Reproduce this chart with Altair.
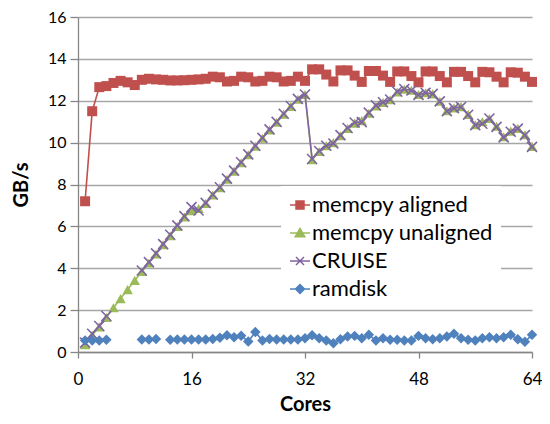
import altair as alt
import pandas as pd

cores = list(range(1, 65))

aligned = [7.2, 11.5, 12.65, 12.7, 12.85, 12.95, 12.88, 12.75, 13.0, 13.05,
           13.02, 13.0, 12.97, 12.97, 12.98, 13.0, 13.02, 13.05, 13.15, 13.12,
           12.92, 12.95, 13.15, 13.12, 12.92, 12.95, 13.15, 13.12, 12.92, 12.95,
           13.15, 12.95, 13.5, 13.5, 13.25, 12.92, 13.45, 13.45, 13.2, 12.9,
           13.42, 13.42, 13.2, 12.9, 13.4, 13.4, 13.18, 12.88, 13.4, 13.4,
           13.18, 12.88, 13.38, 13.38, 13.18, 12.88, 13.38, 13.36, 13.15, 12.88,
           13.36, 13.34, 13.15, 12.9]

unaligned = [0.35, 0.8, 1.2, 1.65, 2.11, 2.55, 2.98, 3.42, 3.85, 4.25,
             4.68, 5.12, 5.55, 6.0, 6.45, 6.75, 6.85, 7.1, 7.5, 7.85,
             8.25, 8.64, 9.04, 9.42, 9.83, 10.21, 10.61, 10.97, 11.36, 11.73,
             12.07, 12.3, 9.18, 9.58, 9.85, 10.0, 10.33, 10.68, 10.93, 11.05,
             11.4, 11.75, 11.92, 12.05, 12.42, 12.55, 12.5, 12.3, 12.38, 12.33,
             11.98, 11.52, 11.66, 11.72, 11.35, 10.85, 11.0, 11.15, 10.78, 10.28,
             10.55, 10.68, 10.38, 9.82]

cruise = [0.45, 0.87, 1.24, 1.72, None, None, None, None, 3.89, 4.29,
          4.71, 5.15, 5.6, 6.05, 6.49, 6.92, 6.76, 7.12, 7.52, 7.87,
          8.28, 8.66, 9.06, 9.44, 9.85, 10.23, 10.63, 10.99, 11.38, 11.75,
          12.09, 12.3, 9.22, 9.6, 9.85, 9.96, 10.36, 10.7, 10.96, 10.98,
          11.43, 11.78, 11.93, 12.06, 12.44, 12.56, 12.49, 12.28, 12.38, 12.33,
          11.97, 11.5, 11.65, 11.7, 11.33, 10.83, 10.9, 11.15, 10.75, 10.25,
          10.52, 10.67, 10.36, 9.8]

ramdisk = [0.55, 0.55, 0.55, 0.58, None, None, None, None, 0.6, 0.6,
           0.62, None, 0.58, 0.6, 0.6, 0.6, 0.6, 0.6, 0.62, 0.68,
           0.8, 0.7, 0.78, 0.5, 0.95, 0.55, 0.62, 0.6, 0.6, 0.6,
           0.6, 0.66, 0.8, 0.66, 0.55, 0.42, 0.61, 0.74, 0.77, 0.66,
           0.82, 0.55, 0.66, 0.58, 0.58, 0.55, 0.55, 0.77, 0.66, 0.61,
           0.66, 0.74, 0.87, 0.66, 0.58, 0.55, 0.66, 0.71, 0.66, 0.71,
           0.82, 0.61, 0.49, 0.82]

series_names = ["memcpy aligned", "memcpy unaligned", "CRUISE", "ramdisk"]
colors = ["#c0504d", "#9bbb59", "#8064a2", "#4f81bd"]
x_ticks = [0, 16, 32, 48, 64]
y_ticks = [0, 2, 4, 6, 8, 10, 12, 14, 16]

rows = []
for name, vals in zip(series_names, [aligned, unaligned, cruise, ramdisk]):
    seg = 0
    for c, v in zip(cores, vals):
        if v is None:
            seg += 1
            continue
        rows.append({"core": c, "value": v, "series": name, "seg": f"{name}-{seg}"})
df = pd.DataFrame(rows)

FONT = "Lato"
W, H = 454, 335

x_enc = alt.X("core:Q", scale=alt.Scale(domain=[0, 64], nice=False),
              axis=alt.Axis(values=x_ticks, title="Cores", grid=False, tickSize=6,
                            labelPadding=13, titleY=52, titleX=W / 2,
                            titleBaseline="middle", labelFlush=False))
y_enc = alt.Y("value:Q", scale=alt.Scale(domain=[0, 16], nice=False),
              axis=alt.Axis(values=y_ticks, title="GB/s", grid=True, tickSize=8,
                            labelPadding=4, titleX=-57, titleY=H / 2, titleAngle=270,
                            titleAlign="center", titleBaseline="middle",
                            labelFontSize=16))

point_specs = {
    "memcpy aligned": dict(shape="square", filled=True, size=100),
    "memcpy unaligned": dict(shape="triangle-up", filled=True, size=110),
    "CRUISE": dict(shape="M-1,-1L1,1M-1,1L1,-1", filled=False, size=100, strokeWidth=1.6),
    "ramdisk": dict(shape="diamond", filled=True, size=110),
}

layers = []
for name, col in zip(series_names, colors):
    base = alt.Chart().transform_filter(alt.datum.series == name)
    line = base.mark_line(color=col, strokeWidth=1.6).encode(
        x=x_enc, y=y_enc, detail="seg:N")
    pts = base.mark_point(color=col, opacity=1, **point_specs[name]).encode(
        x=x_enc, y=y_enc)
    layers += [line, pts]

legend_shapes = [
    "M-1,0L1,0M-0.4,-0.4L0.4,-0.4L0.4,0.4L-0.4,0.4Z",
    "M-1,0L1,0M0,-0.45L0.48,0.38L-0.48,0.38Z",
    "M-1,0L1,0M-0.4,-0.4L0.4,0.4M-0.4,0.4L0.4,-0.4",
    "M-1,0L1,0M0,-0.45L0.45,0L0,0.45L-0.45,0Z",
]

legend_layer = alt.Chart().mark_point(filled=True, strokeWidth=1.5, size=400, opacity=1).encode(
    fill=alt.Fill("series:N", scale=alt.Scale(domain=series_names, range=colors), title=None),
    stroke=alt.Stroke("series:N", scale=alt.Scale(domain=series_names, range=colors), title=None),
    shape=alt.Shape("series:N", scale=alt.Scale(domain=series_names, range=legend_shapes), title=None),
).transform_filter("datum.core < 0")

layers.append(legend_layer)

chart = alt.layer(*layers, data=df).properties(
    width=W, height=H,
    autosize=alt.AutoSizeParams(type="none"),
    padding={"left": 70, "top": 9, "right": 10, "bottom": 64},
).configure_view(stroke=None).configure_axis(
    domainColor="#868686", tickColor="#868686", gridColor="#a6a6a6",
    domainWidth=1.3, tickWidth=1.3, gridWidth=1.3,
    labelFont=FONT, labelFontSize=17, labelColor="black",
    titleFont=FONT, titleFontSize=20, titleFontWeight="bold", titleColor="black",
).configure_legend(
    orient="none", legendX=203, legendY=169, padding=8, fillColor="white",
    labelFont=FONT, labelFontSize=22, labelColor="black", symbolSize=400,
    symbolStrokeWidth=1.5, rowPadding=6, labelOffset=1, labelLimit=400,
)

chart.save("out.html", embed_options={"renderer": "svg", "actions": False})
